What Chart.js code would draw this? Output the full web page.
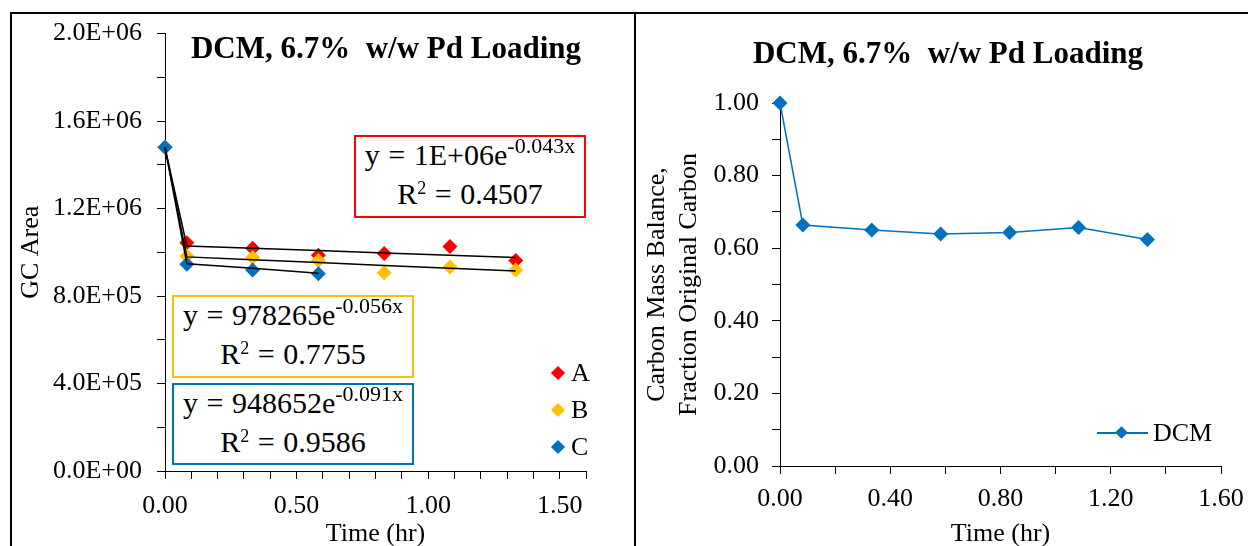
<!DOCTYPE html>
<html>
<head>
<meta charset="utf-8">
<script src="https://cdn.jsdelivr.net/npm/chart.js@4.4.0/dist/chart.umd.min.js"></script>
<style>
body{margin:0;background:#fff;}
#page{position:relative;width:1248px;height:546px;overflow:hidden;font-family:'Liberation Serif','Times New Roman',serif;color:#000;}
.ln{position:absolute;background:#000;}
.cv{position:absolute;}
.title{position:absolute;width:600px;text-align:center;font-size:31px;line-height:36px;font-weight:bold;white-space:nowrap;}
.box{position:absolute;box-sizing:border-box;border:2px solid;background:#fff;font-size:30px;line-height:36px;text-align:center;white-space:nowrap;word-spacing:1px;padding-top:0;}
.box .ex{font-size:22px;position:relative;top:-12px;word-spacing:0;}
.box .r2{font-size:18px;position:relative;top:-10px;}
.leg{position:absolute;font-size:26px;line-height:30px;white-space:nowrap;}
.dia{position:absolute;width:10px;height:10px;transform:rotate(45deg);}
</style>
</head>
<body>
<div id="page">
  <div class="ln" style="left:10px;top:12px;width:1238px;height:2px;"></div>
  <div class="ln" style="left:10px;top:12px;width:2px;height:534px;"></div>
  <div class="ln" style="left:634px;top:12px;width:2px;height:534px;"></div>

  <canvas id="left" class="cv" width="622" height="551" style="left:12px;top:3px;"></canvas>
  <canvas id="right" class="cv" width="619" height="540" style="left:636px;top:14px;"></canvas>

  <div class="title" style="left:86px;top:30px;">DCM, 6.7%&nbsp; w/w Pd Loading</div>
  <div class="title" style="left:648px;top:35px;">DCM, 6.7%&nbsp; w/w Pd Loading</div>

  <div class="box" style="left:354px;top:135px;width:232px;height:83px;border-color:#ff0000;">
    y = 1E+06e<span class="ex">-0.043x</span><br>R<span class="r2">2</span> = 0.4507
  </div>
  <div class="box" style="left:172px;top:295px;width:242px;height:83px;border-color:#ffc000;">
    y = 978265e<span class="ex">-0.056x</span><br>R<span class="r2">2</span> = 0.7755
  </div>
  <div class="box" style="left:172px;top:383px;width:242px;height:82px;border-color:#0070c0;">
    y = 948652e<span class="ex">-0.091x</span><br>R<span class="r2">2</span> = 0.9586
  </div>

  <div class="dia" style="left:553px;top:368px;background:#ff0000;"></div>
  <div class="leg" style="left:571px;top:358px;">A</div>
  <div class="dia" style="left:553px;top:405px;background:#ffc000;"></div>
  <div class="leg" style="left:571px;top:395px;">B</div>
  <div class="dia" style="left:553px;top:442px;background:#0070c0;"></div>
  <div class="leg" style="left:571px;top:432px;">C</div>

  <div class="ln" style="left:1097px;top:432px;width:51px;height:2px;background:#0070c0;"></div>
  <div class="dia" style="left:1117px;top:428px;width:9px;height:9px;background:#0070c0;"></div>
  <div class="leg" style="left:1153px;top:418px;">DCM</div>
</div>

<script>
// sampling times (hr)
var times = [0, 0.083, 0.333, 0.583, 0.833, 1.083, 1.333];

// GC area, replicates A, B, C
var seriesA = [1.48e6, 1.044e6, 1.018e6, 0.986e6, 0.994e6, 1.026e6, 0.963e6];
var seriesB = [1.48e6, 0.983e6, 0.976e6, 0.963e6, 0.907e6, 0.933e6, 0.919e6];
var seriesC = [1.48e6, 0.945e6, 0.919e6, 0.902e6];

// fitted trend lines as drawn
var trendA = [1.48e6, 1.029e6, 1.018e6, 1.008e6, 0.997e6, 0.986e6, 0.976e6];
var trendB = [1.48e6, 0.979e6, 0.966e6, 0.953e6, 0.940e6, 0.927e6, 0.914e6];
var trendC = [1.48e6, 0.948e6, 0.927e6, 0.904e6];

// carbon mass balance, fraction of original carbon
var massBalance = [1.00, 0.664, 0.650, 0.639, 0.643, 0.657, 0.624];

Chart.defaults.font.family = "'Liberation Serif', 'Times New Roman', serif";
Chart.defaults.color = '#000';

function pts(xs, ys){
  return ys.map(function(y, i){ return {x: xs[i], y: y} })
}
function isMult(v, step){
  var q = v / step
  return Math.abs(q - Math.round(q)) < 1e-6
}
function sci(v){
  if(v === 0) return '0.0E+00'
  var e = Math.floor(Math.log10(v) + 1e-9)
  var m = v / Math.pow(10, e)
  return m.toFixed(1) + 'E+' + (e < 10 ? '0' : '') + e
}

var black = '#000'
function axisGrid(){
  return {drawOnChartArea: false, drawTicks: true, tickLength: 8, color: black, tickWidth: 1}
}

function trend(data, order){
  return {data: data, showLine: true, borderColor: black, borderWidth: 1.5, pointRadius: 0, order: order, clip: false}
}
function dots(data, color, order){
  return {data: data, showLine: false, pointStyle: 'rectRot', pointRadius: 7.5, pointHoverRadius: 7.5,
    backgroundColor: color, borderColor: color, borderWidth: 0, order: order, clip: false}
}

new Chart(document.getElementById('left'), {
  type: 'scatter',
  data: {
    datasets: [
      trend(pts(times, trendA), 0),
      trend(pts(times, trendB), 0),
      trend(pts(times, trendC), 0),
      dots(pts(times, seriesC), '#0070c0', 1),
      dots(pts(times, seriesB), '#ffc000', 2),
      dots(pts(times, seriesA), '#ff0000', 3)
    ]
  },
  options: {
    responsive: false,
    animation: false,
    layout: {padding: {left: 0, right: 48, top: 20, bottom: 0}},
    plugins: {legend: {display: false}, tooltip: {enabled: false}},
    scales: {
      x: {
        type: 'linear', min: 0, max: 1.6,
        ticks: {stepSize: 0.1, autoSkip: false, maxRotation: 0, padding: 12, font: {size: 26},
          callback: function(v){ return isMult(v, 0.5) ? v.toFixed(2) : '' }},
        grid: axisGrid(),
        border: {color: black, width: 1},
        title: {display: true, text: 'Time (hr)', font: {size: 26}, padding: {top: 0, bottom: 4}},
        afterFit: function(s){ s.height = 83 }
      },
      y: {
        min: 0, max: 2e6,
        ticks: {stepSize: 2e5, autoSkip: false, padding: 15, font: {size: 26},
          callback: function(v){ return isMult(v, 4e5) ? sci(v) : '' }},
        grid: axisGrid(),
        border: {color: black, width: 1},
        title: {display: true, text: 'GC Area', font: {size: 26}, padding: 4},
        afterFit: function(s){ s.width = 153 }
      }
    }
  }
})

new Chart(document.getElementById('right'), {
  type: 'scatter',
  data: {
    datasets: [{
      label: 'DCM',
      data: pts(times, massBalance),
      showLine: true,
      clip: false,
      borderColor: '#0070c0', borderWidth: 1.5,
      pointStyle: 'rectRot', pointRadius: 7.5, pointHoverRadius: 7.5,
      backgroundColor: '#0070c0', pointBorderWidth: 0
    }]
  },
  options: {
    responsive: false,
    animation: false,
    layout: {padding: {left: 0, right: 34, top: 89, bottom: 0}},
    plugins: {legend: {display: false}, tooltip: {enabled: false}},
    scales: {
      x: {
        type: 'linear', min: 0, max: 1.6,
        ticks: {stepSize: 0.2, autoSkip: false, maxRotation: 0, padding: 10, font: {size: 26},
          callback: function(v){ return isMult(v, 0.4) ? v.toFixed(2) : '' }},
        grid: axisGrid(),
        border: {color: black, width: 1},
        title: {display: true, text: 'Time (hr)', font: {size: 26}, padding: {top: 0, bottom: 4}},
        afterFit: function(s){ s.height = 88 }
      },
      y: {
        min: 0, max: 1.0,
        ticks: {stepSize: 0.1, autoSkip: false, padding: 13, font: {size: 26},
          callback: function(v){ return isMult(v, 0.2) ? v.toFixed(2) : '' }},
        grid: axisGrid(),
        border: {color: black, width: 1},
        title: {display: true, text: ['Carbon Mass Balance,', 'Fraction Original Carbon'], font: {size: 26}, padding: 6},
        afterFit: function(s){ s.width = 144 }
      }
    }
  }
})
</script>
</body>
</html>
